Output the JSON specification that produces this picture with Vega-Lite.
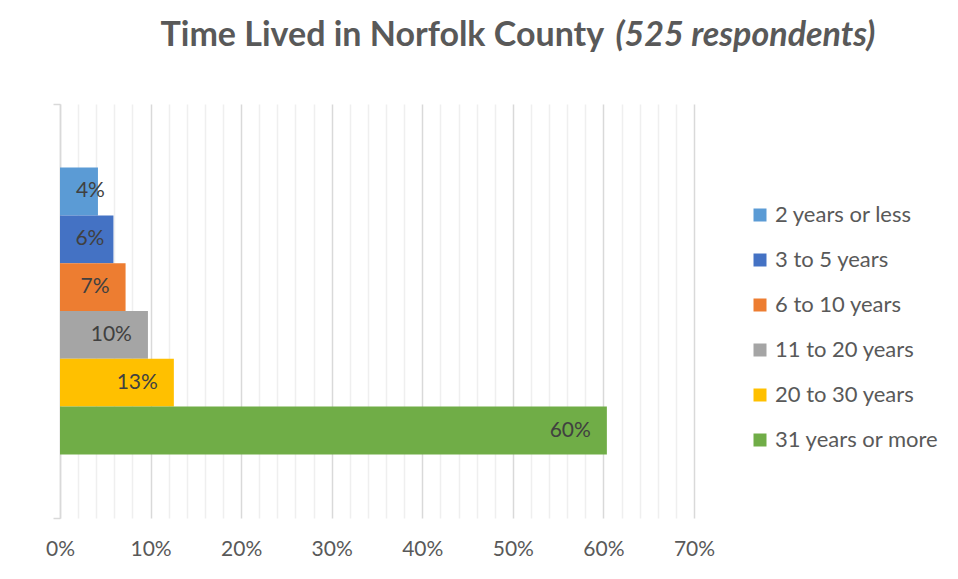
{
  "$schema": "https://vega.github.io/schema/vega-lite/v6.json",
  "width": 634,
  "height": 414,
  "autosize": {"type": "none"},
  "padding": {"left": 60, "top": 104, "right": 264, "bottom": 61},
  "background": "white",
  "config": {"view": {"stroke": null}, "font": "Lato"},
  "data": {
    "values": [
      {"group": "All", "cat": "2 years or less", "pct": 0.0419},
      {"group": "All", "cat": "3 to 5 years", "pct": 0.0590},
      {"group": "All", "cat": "6 to 10 years", "pct": 0.0724},
      {"group": "All", "cat": "11 to 20 years", "pct": 0.0971},
      {"group": "All", "cat": "20 to 30 years", "pct": 0.1257},
      {"group": "All", "cat": "31 years or more", "pct": 0.6038}
    ]
  },
  "encoding": {
    "y": {
      "field": "group",
      "type": "nominal",
      "scale": {"paddingInner": 0, "paddingOuter": 0},
      "axis": {
        "labels": false,
        "ticks": true,
        "tickBand": "extent",
        "tickSize": 7,
        "tickColor": "#d9d9d9",
        "tickWidth": 1.5,
        "domainColor": "#d9d9d9",
        "domainWidth": 1.5,
        "title": "(525 respondents)",
        "titleAngle": 0,
        "titleX": 555,
        "titleY": -59,
        "titleAlign": "left",
        "titleBaseline": "alphabetic",
        "titleFont": "Lato",
        "titleFontSize": 34,
        "titleFontWeight": "bold",
        "titleFontStyle": "italic",
        "titleColor": "#595959"
      }
    },
    "yOffset": {
      "field": "cat",
      "type": "nominal",
      "scale": {
        "domain": [" ", "2 years or less", "3 to 5 years", "6 to 10 years", "11 to 20 years", "20 to 30 years", "31 years or more", "  "],
        "paddingInner": 0,
        "paddingOuter": 0.33
      }
    }
  },
  "layer": [
    {
      "mark": {"type": "bar"},
      "encoding": {
        "x": {
          "field": "pct",
          "type": "quantitative",
          "scale": {"domain": [0, 0.7], "nice": false, "zero": true},
          "axis": {
            "values": [0, 0.02, 0.04, 0.06, 0.08, 0.1, 0.12, 0.14, 0.16, 0.18, 0.2, 0.22, 0.24, 0.26, 0.28, 0.3, 0.32, 0.34, 0.36, 0.38, 0.4, 0.42, 0.44, 0.46, 0.48, 0.5, 0.52, 0.54, 0.56, 0.58, 0.6, 0.62, 0.64, 0.66, 0.68, 0.7],
            "tickCount": 50,
            "labelExpr": "round(datum.value*100) % 10 === 0 ? format(datum.value, '.0%') : ''",
            "grid": true,
            "gridColor": {"condition": {"test": "round(datum.value*100) % 10 === 0", "value": "#d9d9d9"}, "value": "#efefef"},
            "gridWidth": 1.5,
            "domain": false,
            "ticks": false,
            "tickSize": 0,
            "labelPadding": 20,
            "labelFont": "Lato",
            "labelFontSize": 21,
            "labelColor": "#595959",
            "labelOverlap": false,
            "labelFlush": false,
            "title": "Time Lived in Norfolk County",
            "titleX": 100,
            "titleY": -473,
            "titleAlign": "left",
            "titleAnchor": "start",
            "titleBaseline": "alphabetic",
            "titleFont": "Lato",
            "titleFontSize": 34,
            "titleFontWeight": "bold",
            "titleColor": "#595959"
          }
        },
        "color": {
          "field": "cat",
          "type": "nominal",
          "scale": {
            "domain": ["2 years or less", "3 to 5 years", "6 to 10 years", "11 to 20 years", "20 to 30 years", "31 years or more"],
            "range": ["#5b9bd5", "#4472c4", "#ed7d31", "#a5a5a5", "#ffc000", "#70ad47"]
          },
          "legend": {
            "orient": "none",
            "legendX": 689,
            "legendY": 100,
            "padding": 0,
            "title": null,
            "symbolType": "square",
            "symbolSize": 169,
            "symbolStrokeWidth": 0,
            "labelFont": "Lato",
            "labelFontSize": 22,
            "labelColor": "#595959",
            "labelOffset": 4,
            "rowPadding": 23,
            "labelLimit": 300
          }
        }
      }
    },
    {
      "mark": {
        "type": "text",
        "align": "right",
        "baseline": "middle",
        "font": "Lato",
        "fontSize": 21,
        "color": "#404040",
        "dx": {"expr": "datum.pct < 0.05 ? 7 : (datum.pct < 0.065 ? -9 : -16)"}
      },
      "encoding": {
        "x": {"field": "pct", "type": "quantitative"},
        "text": {"field": "pct", "type": "quantitative", "format": ".0%"}
      }
    }
  ]
}
